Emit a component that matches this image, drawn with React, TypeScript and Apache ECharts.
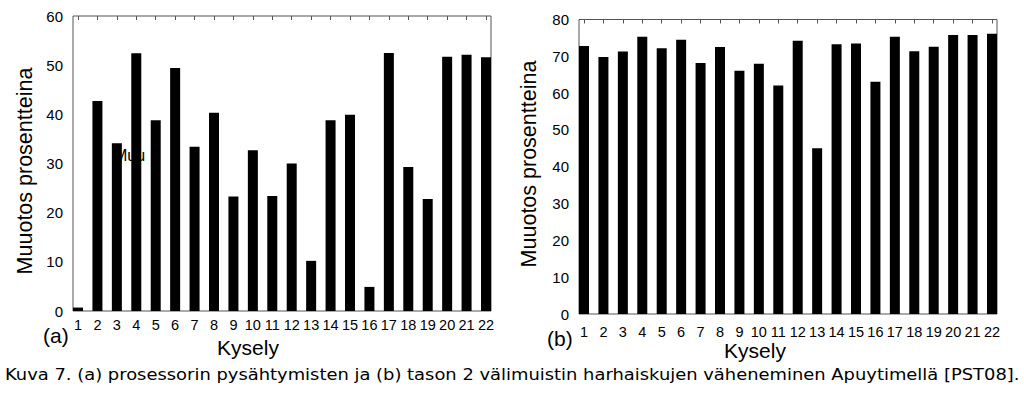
import React, { useEffect, useRef } from "react";
import * as echarts from "echarts";

const categories = [1, 2, 3, 4, 5, 6, 7, 8, 9, 10, 11, 12, 13, 14, 15, 16, 17, 18, 19, 20, 21, 22];
const stallReduction = [0.7, 42.7, 34.1, 52.4, 38.8, 49.4, 33.4, 40.3, 23.3, 32.7, 23.4, 30.0, 10.2, 38.8, 39.9, 4.9, 52.5, 29.3, 22.8, 51.7, 52.1, 51.6];
const l2MissReduction = [72.8, 69.8, 71.3, 75.3, 72.2, 74.5, 68.2, 72.5, 66.1, 68.0, 62.1, 74.2, 45.0, 73.3, 73.5, 63.1, 75.3, 71.4, 72.6, 75.8, 75.8, 76.1];
const yTicksA = { min: 0, max: 60, interval: 10 };
const yTicksB = { min: 0, max: 80, interval: 10 };

const yName = "Muuotos prosentteina";
const xName = "Kysely";
const caption = "Kuva 7. (a) prosessorin pysähtymisten ja (b) tason 2 välimuistin harhaiskujen väheneminen Apuytimellä [PST08].";

const FONT = "Liberation Sans, Arial, sans-serif";

export default function App() {
  const ref = useRef<HTMLDivElement>(null);
  useEffect(() => {
    if (!ref.current) return;
    const chart = echarts.init(ref.current, null, { renderer: "svg" });
    const xMin = 0.7427;
    const xMax = 22.2573;
    const border = "#555";
    const makeX = (gi: number, margin: number) => [
      {
        type: "value", gridIndex: gi, min: xMin, max: xMax,
        axisLine: { show: false }, axisTick: { show: false }, splitLine: { show: false },
        axisLabel: { customValues: categories, fontSize: 14.5, color: "#000", fontFamily: FONT, margin },
      },
      {
        type: "value", gridIndex: gi, position: "top", min: xMin, max: xMax,
        axisLine: { show: false }, splitLine: { show: false },
        axisTick: { show: true, inside: true, length: 4, customValues: categories, lineStyle: { color: border } },
        axisLabel: { show: false },
      },
    ];
    const makeY = (gi: number, t: { min: number; max: number; interval: number }) => ({
      type: "value", gridIndex: gi, min: t.min, max: t.max, interval: t.interval,
      axisLine: { show: false }, axisTick: { show: false }, splitLine: { show: false },
      axisLabel: { fontSize: 15, color: "#000", fontFamily: FONT, margin: 10 },
    });
    const txt = (text: string, x: number, y: number, size: number, extra: any = {}) => ({
      type: "text", x, y, z: 10, ...extra,
      style: { text, fontSize: size, fontFamily: FONT, fill: "#000", textAlign: "center", textVerticalAlign: "middle", ...(extra.style || {}) },
    });
    chart.setOption({
      animation: false,
      backgroundColor: "#fff",
      grid: [
        { left: 73, top: 16, width: 418, height: 295, show: true, borderColor: border, borderWidth: 1, backgroundColor: "transparent" },
        { left: 579, top: 19.5, width: 418, height: 294.5, show: true, borderColor: border, borderWidth: 1, backgroundColor: "transparent" },
      ],
      xAxis: [...makeX(0, 6), ...makeX(1, 10)],
      yAxis: [makeY(0, yTicksA), makeY(1, yTicksB)],
      series: [
        {
          type: "bar", xAxisIndex: 0, yAxisIndex: 0, barWidth: 10, z: 5,
          itemStyle: { color: "#000" },
          data: categories.map((c, i) => [c, stallReduction[i]]),
        },
        {
          type: "bar", xAxisIndex: 2, yAxisIndex: 1, barWidth: 10, z: 5,
          itemStyle: { color: "#000" },
          data: categories.map((c, i) => [c, l2MissReduction[i]]),
        },
      ],
      graphic: [
        { type: "text", x: 114, y: 155, z: 1, style: { text: "Muu", fontSize: 16, fontFamily: FONT, fill: "#000", textAlign: "left", textVerticalAlign: "middle" } },
        txt(yName, 25, 171, 21.5, { rotation: Math.PI / 2 }),
        txt(yName, 529, 164, 21.5, { rotation: Math.PI / 2 }),
        txt(xName, 248, 347, 21),
        txt(xName, 755, 350, 21),
        txt("(a)", 43, 335.5, 21, { style: { textAlign: "left" } }),
        txt("(b)", 547, 338.5, 21, { style: { textAlign: "left" } }),
        {
          type: "text", x: 5, y: 374, z: 10, scaleX: 1.12,
          style: { text: caption, fontSize: 16, fontFamily: "DejaVu Sans", fill: "#000", textAlign: "left", textVerticalAlign: "middle" },
        },
      ],
    });
    return () => chart.dispose();
  }, []);
  return <div ref={ref} style={{ position: "fixed", left: 0, top: 0, width: 1024, height: 395 }} />;
}
